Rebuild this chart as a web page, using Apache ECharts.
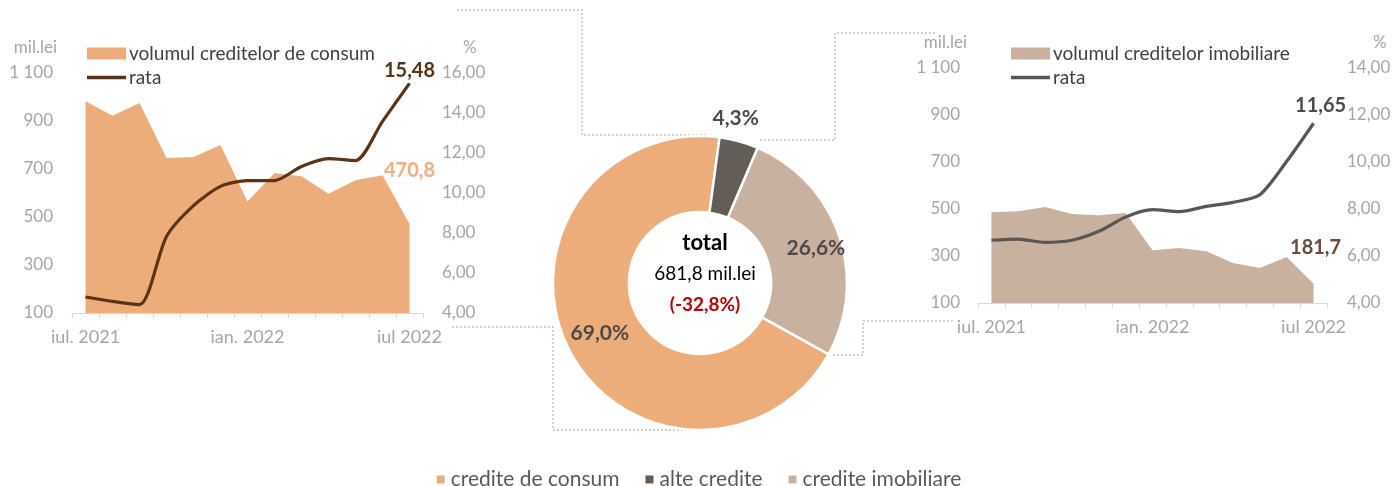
<!DOCTYPE html>
<html>
<head>
  <meta charset="utf-8">
  <title>credite</title>
  <script src="https://cdn.jsdelivr.net/npm/echarts@6/dist/echarts.min.js"></script>
  <style>
    html, body { margin: 0; padding: 0; background: #fff; }
    #main { width: 1396px; height: 486px; }
  </style>
</head>
<body>
  <div id="main"></div>
  <script>
    // iul. 2021 .. iul 2022
    var months = ['iul. 2021', 'aug', 'sep', 'oct', 'noi', 'dec', 'ian. 2022', 'feb', 'mar', 'apr', 'mai', 'iun', 'iul 2022'];

    var consumVolume = [982, 922, 975, 746, 750, 800, 565, 683, 670, 597, 653, 674, 470.8];
    var consumRate = [4.80, 4.58, 4.42, 7.83, 9.37, 10.33, 10.62, 10.62, 11.33, 11.72, 11.62, 13.58, 15.48];

    var imobVolume = [486, 490, 509, 479, 473, 483, 324, 334, 320, 270, 249, 296, 181.7];
    var imobRate = [6.67, 6.72, 6.58, 6.67, 7.05, 7.66, 7.97, 7.89, 8.11, 8.28, 8.61, 10.03, 11.65];

    var pieNames = ['credite de consum', 'alte credite', 'credite imobiliare'];
    var pieShares = [69.0, 4.3, 26.6];
    var pieColors = ['#EDAD7B', '#625D57', '#C9B1A0'];

    var totalText = ['total', '681,8 mil.lei', '(-32,8%)'];

    var FONT = 'Lato';
    var GRAY = '#A6A6A6';
    var LINE_ICON = 'path://M0,0H38V3.4H0Z';

    function fmtComma(v, d) {
      return v.toFixed(d).replace('.', ',');
    }
    function fmtThousand(v) {
      return String(v).replace(/\B(?=(\d{3})+(?!\d))/g, ' ');
    }
    // only the last point gets a (tiny, invisible) symbol carrying the value label
    function lastLabelled(arr, label) {
      return arr.map(function (v, i) {
        if (i !== arr.length - 1) return v;
        return { value: v, symbol: 'circle', symbolSize: 0.01, label: label };
      });
    }

    function xAxisFor(gridIndex) {
      return {
        type: 'category',
        gridIndex: gridIndex,
        data: months,
        boundaryGap: true,
        axisLine: { lineStyle: { color: '#D9D9D9' } },
        axisTick: { show: true, interval: 0, length: 5, lineStyle: { color: '#D9D9D9' } },
        axisLabel: {
          interval: 5, color: GRAY, fontFamily: FONT, fontSize: 18, margin: 15
        }
      };
    }
    function leftAxis(gridIndex, padRight, margin) {
      return {
        type: 'value', gridIndex: gridIndex, min: 100, max: 1100, interval: 200,
        name: 'mil.lei', nameLocation: 'end', nameGap: 17,
        nameTextStyle: { color: GRAY, fontFamily: FONT, fontSize: 17, align: 'right', padding: [0, padRight, 0, 0] },
        splitLine: { show: false }, axisLine: { show: false }, axisTick: { show: false },
        axisLabel: { color: GRAY, fontFamily: FONT, fontSize: 17, margin: margin, formatter: fmtThousand }
      };
    }
    function rightAxis(gridIndex, min, max, padLeft, margin) {
      return {
        type: 'value', gridIndex: gridIndex, position: 'right', min: min, max: max, interval: 2,
        name: '%', nameLocation: 'end', nameGap: 17,
        nameTextStyle: { color: GRAY, fontFamily: FONT, fontSize: 17, align: 'left', padding: [0, 0, 0, padLeft] },
        splitLine: { show: false }, axisLine: { show: false }, axisTick: { show: false },
        axisLabel: { color: GRAY, fontFamily: FONT, fontSize: 17, margin: margin, formatter: function (v) { return fmtComma(v, 2); } }
      };
    }
    function valueLabel(color, decimals, distance, dx) {
      return {
        show: true, position: 'top', distance: distance, offset: [dx, 0],
        formatter: function (p) { return fmtComma(p.value, decimals); },
        fontFamily: FONT, fontSize: 20, fontWeight: 'bold', color: color
      };
    }

    var chart = echarts.init(document.getElementById('main'));

    var dash = { stroke: '#A0A0A0', lineWidth: 1, lineDash: [2, 2] };

    var topLegendText = { fontFamily: FONT, fontSize: 19, color: '#404040', padding: [0, 0, 0, -2] };

    var option = {
      backgroundColor: '#fff',
      animation: false,
      textStyle: { fontFamily: FONT },
      title: {
        text: '{a|' + totalText[0] + '}\n{b|' + totalText[1] + '}\n{c|' + totalText[2] + '}',
        left: 700, top: 222, textAlign: 'center',
        textStyle: {
          rich: {
            a: { fontFamily: FONT, fontSize: 22, fontWeight: 'bold', color: '#000', lineHeight: 31 },
            b: { fontFamily: FONT, fontSize: 19, fontWeight: 'normal', color: '#000', lineHeight: 31 },
            c: { fontFamily: FONT, fontSize: 19, fontWeight: 'bold', color: '#C00000', lineHeight: 31 }
          }
        }
      },
      legend: [
        {
          orient: 'vertical', left: 82, top: 39, itemWidth: 39, itemHeight: 12, itemGap: 5,
          textStyle: topLegendText,
          data: [{ name: 'volumul creditelor de consum', icon: 'rect' }, { name: 'rata', icon: LINE_ICON }]
        },
        {
          orient: 'vertical', left: 1006, top: 39, itemWidth: 39, itemHeight: 12, itemGap: 5,
          textStyle: topLegendText,
          data: [{ name: 'volumul creditelor imobiliare', icon: 'rect' }, { name: 'rata ', icon: LINE_ICON }]
        },
        {
          orient: 'horizontal', left: 'center', top: 464, itemWidth: 10, itemHeight: 10, itemGap: 24,
          icon: 'rect',
          textStyle: { fontFamily: FONT, fontSize: 21, color: '#595959' },
          data: pieNames
        }
      ],
      grid: [
        { left: 72, right: 973, top: 73, bottom: 173 },
        { left: 978, right: 69, top: 68, bottom: 183 }
      ],
      xAxis: [xAxisFor(0), xAxisFor(1)],
      yAxis: [
        leftAxis(0, 15, 19),
        rightAxis(0, 4, 16, 40, 19),
        leftAxis(1, 11, 18),
        rightAxis(1, 4, 14, 46, 20)
      ],
      series: [
        {
          name: 'volumul creditelor de consum', type: 'line', xAxisIndex: 0, yAxisIndex: 0,
          data: lastLabelled(consumVolume, valueLabel('#F2AE7C', 1, 43, 0)),
          symbol: 'none', lineStyle: { width: 0 },
          itemStyle: { color: '#EDAD7B' },
          areaStyle: { color: '#EDAD7B', opacity: 1 },
          z: 1
        },
        {
          name: 'rata', type: 'line', xAxisIndex: 0, yAxisIndex: 1,
          data: lastLabelled(consumRate, valueLabel('#5A3315', 2, 3, 0)),
          symbol: 'none', smooth: 0.25,
          lineStyle: { color: '#5C3317', width: 3.2 },
          itemStyle: { color: '#5C3317' },
          z: 3
        },
        {
          name: 'volumul creditelor imobiliare', type: 'line', xAxisIndex: 1, yAxisIndex: 2,
          data: lastLabelled(imobVolume, valueLabel('#6B4C3B', 1, 26, 2)),
          symbol: 'none', lineStyle: { width: 0 },
          itemStyle: { color: '#C9B1A0' },
          areaStyle: { color: '#C9B1A0', opacity: 1 },
          z: 1
        },
        {
          name: 'rata ', type: 'line', xAxisIndex: 1, yAxisIndex: 3,
          data: lastLabelled(imobRate, valueLabel('#4D4A47', 2, 8, 7)),
          symbol: 'none', smooth: 0.25,
          lineStyle: { color: '#5A5651', width: 3.2 },
          itemStyle: { color: '#5A5651' },
          z: 3
        },
        {
          name: 'structura', type: 'pie',
          center: [700, 283], radius: [71, 147],
          startAngle: -29, clockwise: true,
          avoidLabelOverlap: false,
          itemStyle: { borderColor: '#fff', borderWidth: 2.5 },
          label: {
            show: true, position: 'inside',
            fontFamily: FONT, fontSize: 21, fontWeight: 'bold', color: '#4D4A47',
            formatter: function (p) { return fmtComma(p.value, 1) + '%'; }
          },
          labelLine: { show: false },
          labelLayout: function (p) {
            if (p.dataIndex === 1) return { dx: 6, dy: -57 };
            if (p.dataIndex === 2) return { dx: 10, dy: 2 };
            return {};
          },
          data: pieNames.map(function (n, i) {
            return { name: n, value: pieShares[i], itemStyle: { color: pieColors[i] } };
          })
        }
      ],
      graphic: [
        { type: 'polyline', shape: { points: [[457, 10], [582, 10], [582, 135], [707, 135]] }, style: dash, silent: true },
        { type: 'polyline', shape: { points: [[760, 140], [835, 140], [835, 33], [937, 33]] }, style: dash, silent: true },
        { type: 'polyline', shape: { points: [[833, 355], [863, 355], [863, 321], [953, 321]] }, style: dash, silent: true },
        { type: 'polyline', shape: { points: [[452, 327], [553, 327], [553, 430], [697, 430]] }, style: dash, silent: true }
      ]
    };

    chart.setOption(option);
  </script>
</body>
</html>
